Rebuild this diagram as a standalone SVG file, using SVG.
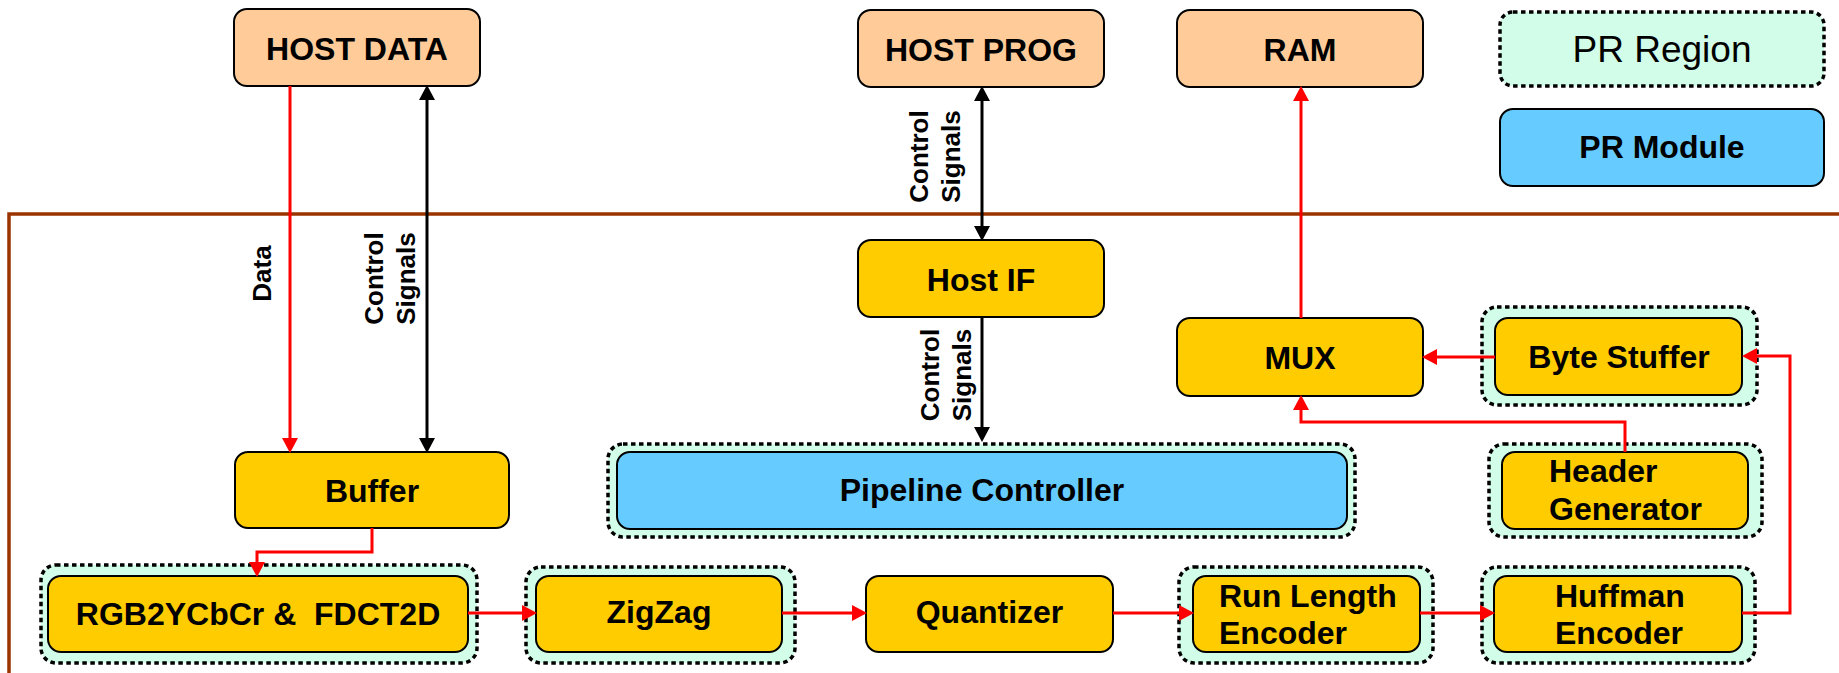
<svg xmlns="http://www.w3.org/2000/svg" width="1839" height="673" viewBox="0 0 1839 673">
<style>
.box{stroke:#000;stroke-width:2}
.host{fill:#FFCC99}
.mod{fill:#FFCC00}
.pr{fill:#66CCFF}
.region{fill:#D2FDE9;stroke:#000;stroke-width:3.5;stroke-dasharray:4.5 3.5}
.t{font-family:"Liberation Sans",Arial,sans-serif;font-weight:bold;font-size:32px;fill:#000}
.c{text-anchor:middle}
.lbl{font-size:26px}
.reg{font-weight:normal;font-size:37px}
.red{stroke:#FF0000;stroke-width:3;fill:none}
.blk{stroke:#000;stroke-width:3;fill:none}
.border{stroke:#993300;stroke-width:3.5;fill:none}
</style>
<defs>
<marker id="ar" viewBox="0 0 15 16" refX="1" refY="8" markerWidth="15" markerHeight="16" markerUnits="userSpaceOnUse" orient="auto-start-reverse"><path d="M0,0 L15,8 L0,16 z" fill="#FF0000"/></marker>
<marker id="ab" viewBox="0 0 15 16" refX="1" refY="8" markerWidth="15" markerHeight="16" markerUnits="userSpaceOnUse" orient="auto-start-reverse"><path d="M0,0 L15,8 L0,16 z" fill="#000"/></marker>
</defs>
<rect width="1839" height="673" fill="#fff"/>
<path class="border" d="M9,675 V214 H1841"/>

<g id="host-data"><rect class="box host" x="234" y="9" width="246" height="77" rx="13"/><text class="t c" x="357" y="60">HOST DATA</text></g>
<g id="host-prog"><rect class="box host" x="858" y="10" width="246" height="77" rx="13"/><text class="t c" x="981" y="61">HOST PROG</text></g>
<g id="ram"><rect class="box host" x="1177" y="10" width="246" height="77" rx="13"/><text class="t c" x="1300" y="61">RAM</text></g>
<g id="legend-pr-region"><rect class="region" x="1500" y="12" width="324" height="74" rx="13"/><text class="t c reg" x="1662" y="62">PR Region</text></g>
<g id="legend-pr-module"><rect class="box pr" x="1500" y="109" width="324" height="77" rx="13"/><text class="t c" x="1662" y="158">PR Module</text></g>

<g id="host-if"><rect class="box mod" x="858" y="240" width="246" height="77" rx="13"/><text class="t c" x="981" y="291">Host IF</text></g>
<g id="mux"><rect class="box mod" x="1177" y="318" width="246" height="78" rx="13"/><text class="t c" x="1300" y="369">MUX</text></g>
<g id="byte-stuffer"><rect class="region" x="1482" y="307" width="275" height="98" rx="15"/><rect class="box mod" x="1495" y="318" width="247" height="77" rx="13"/><text class="t c" x="1619" y="368">Byte Stuffer</text></g>
<g id="header-generator"><rect class="region" x="1489" y="444" width="273" height="93" rx="15"/><rect class="box mod" x="1502" y="452" width="246" height="77" rx="13"/><text class="t" x="1549" y="482">Header</text><text class="t" x="1549" y="520">Generator</text></g>
<g id="pipeline-controller"><rect class="region" x="608" y="444" width="747" height="93" rx="15"/><rect class="box pr" x="617" y="452" width="730" height="77" rx="13"/><text class="t c" x="982" y="501">Pipeline Controller</text></g>
<g id="buffer"><rect class="box mod" x="235" y="452" width="274" height="76" rx="13"/><text class="t c" x="372" y="502">Buffer</text></g>
<g id="rgb2ycbcr-fdct2d"><rect class="region" x="41" y="565" width="436" height="98" rx="15"/><rect class="box mod" x="48" y="576" width="420" height="76" rx="13"/><text class="t c" x="258" y="625" xml:space="preserve">RGB2YCbCr &amp;  FDCT2D</text></g>
<g id="zigzag"><rect class="region" x="526" y="567" width="269" height="96" rx="15"/><rect class="box mod" x="536" y="576" width="246" height="76" rx="13"/><text class="t c" x="659" y="623">ZigZag</text></g>
<g id="quantizer"><rect class="box mod" x="866" y="576" width="247" height="76" rx="13"/><text class="t c" x="989.5" y="623">Quantizer</text></g>
<g id="run-length-encoder"><rect class="region" x="1179" y="567" width="254" height="96" rx="15"/><rect class="box mod" x="1193" y="576" width="227" height="76" rx="13"/><text class="t" x="1219" y="607">Run Length</text><text class="t" x="1219" y="644">Encoder</text></g>
<g id="huffman-encoder"><rect class="region" x="1482" y="567" width="273" height="96" rx="15"/><rect class="box mod" x="1494" y="576" width="248" height="76" rx="13"/><text class="t" x="1555" y="607">Huffman</text><text class="t" x="1555" y="644">Encoder</text></g>

<g id="connectors">
<path class="red" d="M290,86 V439" marker-end="url(#ar)"/>
<path class="blk" d="M427,99 V439" marker-start="url(#ab)" marker-end="url(#ab)"/>
<path class="blk" d="M982,100 V227" marker-start="url(#ab)" marker-end="url(#ab)"/>
<path class="blk" d="M982,317 V428" marker-end="url(#ab)"/>
<path class="red" d="M1301,318 V100" marker-end="url(#ar)"/>
<path class="red" d="M1495,357 H1436" marker-end="url(#ar)"/>
<path class="red" d="M1625,452 V422 H1301 V409" marker-end="url(#ar)"/>
<path class="red" d="M1742,613 H1790 V356 H1756" marker-end="url(#ar)"/>
<path class="red" d="M372,528 V552 H257 V563" marker-end="url(#ar)"/>
<path class="red" d="M468,613 H523" marker-end="url(#ar)"/>
<path class="red" d="M782,613 H853" marker-end="url(#ar)"/>
<path class="red" d="M1113,613 H1180" marker-end="url(#ar)"/>
<path class="red" d="M1420,613 H1481" marker-end="url(#ar)"/>
<text class="t c lbl" transform="translate(271,273.5) rotate(-90)">Data</text>
<text class="t c lbl" transform="translate(383,278.5) rotate(-90)">Control</text>
<text class="t c lbl" transform="translate(415,278.5) rotate(-90)">Signals</text>
<text class="t c lbl" transform="translate(928,156.5) rotate(-90)">Control</text>
<text class="t c lbl" transform="translate(960,156.5) rotate(-90)">Signals</text>
<text class="t c lbl" transform="translate(939,375) rotate(-90)">Control</text>
<text class="t c lbl" transform="translate(971,375) rotate(-90)">Signals</text>
</g>
</svg>
